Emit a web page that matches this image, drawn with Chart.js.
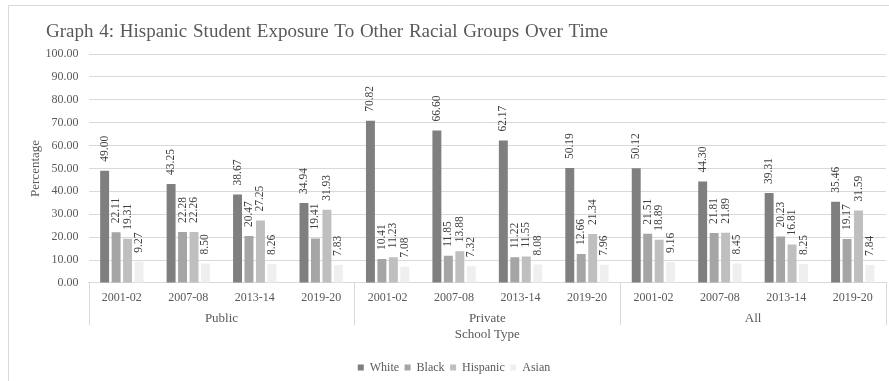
<!DOCTYPE html>
<html>
<head>
<meta charset="utf-8">
<title>Graph 4</title>
<script src="https://cdn.jsdelivr.net/npm/chart.js@4"></script>
<style>
	html, body { margin: 0; padding: 0; background: #fff; }
	#wrap { width: 889px; height: 381px; position: relative; }
</style>
</head>
<body>
<div id="wrap"><canvas id="chart"></canvas></div>
<script>
/* Graph 4 -- Hispanic student exposure, grouped bars by school type and year */

const schoolTypes = ["Public", "Private", "All"];
const years = ["2001-02", "2007-08", "2013-14", "2019-20"];

// one value per school type / year pair, in the order of schoolTypes x years
const white = [49.00, 43.25, 38.67, 34.94, 70.82, 66.60, 62.17, 50.19, 50.12, 44.30, 39.31, 35.46];
const black = [22.11, 22.28, 20.47, 19.41, 10.41, 11.85, 11.22, 12.66, 21.51, 21.81, 20.23, 19.17];
const hispanic = [19.31, 22.26, 27.25, 31.93, 11.23, 13.88, 11.55, 21.34, 18.89, 21.89, 16.81, 31.59];
const asian = [9.27, 8.50, 8.26, 7.83, 7.08, 7.32, 8.08, 7.96, 9.16, 8.45, 8.25, 7.84];

const yTicks = { min: 0, max: 100, step: 10 };

const COLORS = {
	white: "#7f7f7f",
	black: "#a5a5a5",
	hispanic: "#bfbfbf",
	asian: "#efefef",
	grid: "#d9d9d9",
	text: "#595959",
	label: "#404040",
};

const SERIF = "'Liberation Serif', 'Times New Roman', serif";

Chart.defaults.font.family = SERIF;
Chart.defaults.color = COLORS.text;

// year labels repeated under each school type
const xLabels = schoolTypes.flatMap(() => years);

const chartTitle = {
	id: "chartTitle",
	beforeDraw(chart) {
		const ctx = chart.ctx;
		ctx.save();
		// outer frame (top and left edges only, the rest runs off the canvas)
		ctx.strokeStyle = COLORS.grid;
		ctx.lineWidth = 1;
		ctx.beginPath();
		ctx.moveTo(8.5, chart.height);
		ctx.lineTo(8.5, 5.5);
		ctx.lineTo(chart.width, 5.5);
		ctx.stroke();

		ctx.fillStyle = COLORS.text;
		ctx.font = "19px " + SERIF;
		if ("wordSpacing" in ctx) ctx.wordSpacing = "1px";
		ctx.textAlign = "left";
		ctx.textBaseline = "alphabetic";
		ctx.fillText("Graph 4: Hispanic Student Exposure To Other Racial Groups Over Time", 46, 37);
		ctx.restore();
	},
};

// vertical separators between the school type groups on the category axis
const groupLines = {
	id: "groupLines",
	afterDraw(chart) {
		const x = chart.scales.x;
		const area = chart.chartArea;
		const ctx = chart.ctx;
		const bottom = area.bottom + 42;
		ctx.save();
		ctx.strokeStyle = COLORS.grid;
		ctx.lineWidth = 1;
		ctx.beginPath();
		for (let g = 0; g <= schoolTypes.length; g++) {
			const i = g * years.length;
			let px;
			if (i === 0) px = area.left;
			else if (i === xLabels.length) px = area.right;
			else px = (x.getPixelForValue(i - 1) + x.getPixelForValue(i)) / 2;
			px = Math.round(px) + 0.5;
			ctx.moveTo(px, x.top);
			ctx.lineTo(px, bottom);
		}
		ctx.stroke();
		ctx.restore();
	},
};

// rotated value labels above each bar
const barValues = {
	id: "barValues",
	afterDatasetsDraw(chart) {
		const ctx = chart.ctx;
		ctx.save();
		ctx.fillStyle = COLORS.label;
		ctx.font = "11.5px " + SERIF;
		ctx.textAlign = "left";
		ctx.textBaseline = "middle";
		chart.data.datasets.forEach((ds, i) => {
			const meta = chart.getDatasetMeta(i);
			meta.data.forEach((bar, j) => {
				ctx.save();
				ctx.translate(bar.x, bar.y - 9);
				ctx.rotate(-Math.PI / 2);
				ctx.fillText(ds.data[j].toFixed(2), 0, 0);
				ctx.restore();
			});
		});
		ctx.restore();
	},
};

function barSet(label, data, color) {
	return {
		label: label,
		data: data,
		backgroundColor: color,
		borderWidth: 0,
		categoryPercentage: 0.69,
		barPercentage: 0.78,
	};
}

new Chart(document.getElementById("chart"), {
	type: "bar",
	data: {
		labels: xLabels,
		datasets: [
			barSet("White", white, COLORS.white),
			barSet("Black", black, COLORS.black),
			barSet("Hispanic", hispanic, COLORS.hispanic),
			barSet("Asian", asian, COLORS.asian),
		],
	},
	options: {
		responsive: true,
		maintainAspectRatio: false,
		animation: false,
		layout: { padding: { top: 54, left: 22, right: 3, bottom: -2.5 } },
		plugins: {
			title: { display: false },
			tooltip: { enabled: false },
			legend: {
				position: "bottom",
				labels: {
					color: COLORS.text,
					font: { size: 12 },
					boxWidth: 6,
					boxHeight: 6,
					padding: 5.5,
				},
			},
		},
		scales: {
			x: {
				type: "category",
				weight: 0,
				offset: true,
				grid: { display: false, drawTicks: false },
				border: { display: true, color: COLORS.grid },
				ticks: { color: COLORS.text, font: { size: 12 }, padding: 8, maxRotation: 0, autoSkip: false },
			},
			x2: {
				type: "category",
				position: "bottom",
				weight: 1,
				labels: schoolTypes,
				offset: true,
				grid: { display: false, drawTicks: false },
				border: { display: false },
				ticks: { color: COLORS.text, font: { size: 13 }, padding: -2.5, maxRotation: 0 },
				title: {
					display: true,
					text: "School Type",
					color: COLORS.text,
					font: { size: 13 },
					padding: { top: 3, bottom: 13.5 },
				},
			},
			y: {
				min: yTicks.min,
				max: yTicks.max,
				grid: { color: COLORS.grid, drawTicks: false },
				border: { display: false },
				ticks: {
					stepSize: yTicks.step,
					color: COLORS.text,
					font: { size: 12 },
					padding: 10,
					callback: v => v.toFixed(2),
				},
				title: {
					display: true,
					text: "Percentage",
					color: COLORS.text,
					font: { size: 13 },
					padding: { top: 6, bottom: -8 },
				},
			},
		},
	},
	plugins: [chartTitle, groupLines, barValues],
});
</script>
</body>
</html>
